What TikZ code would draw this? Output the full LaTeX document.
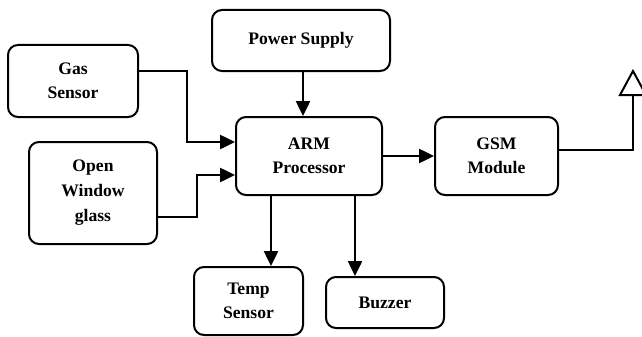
\documentclass[tikz,border=0pt]{standalone}
\usepackage{fontspec}
\setmainfont{Liberation Serif}
\usetikzlibrary{arrows.meta}

\tikzset{
  blk/.style={draw, line width=2pt, rounded corners=10pt, align=center,
              inner sep=0pt, font=\bfseries\fontsize{17.6}{24}\selectfont},
  conn/.style={line width=2.5pt, -{Triangle[length=15pt,width=14pt]}},
  wire/.style={line width=2pt},
}

\begin{document}
\begin{tikzpicture}[x=1pt,y=1pt]
  \useasboundingbox (0,0) rectangle (642,-337);
  \clip (0,0) rectangle (642,-337);

  % blocks
  \node[blk, minimum width=178pt, minimum height=61pt] (ps)   at (301,-40.5) {\raisebox{5pt}{Power Supply}};
  \node[blk, minimum width=130pt, minimum height=72pt] (gas)  at (73,-81)    {Gas\\Sensor};
  \node[blk, minimum width=146pt, minimum height=78pt] (arm)  at (309,-156)  {ARM\\Processor};
  \node[blk, minimum width=128pt, minimum height=102pt, font=\bfseries\fontsize{17.6}{25}\selectfont] (open) at (93,-193) {Open\\Window\\glass};
  \node[blk, minimum width=123pt, minimum height=78pt] (gsm)  at (496.5,-156) {GSM\\Module};
  \node[blk, minimum width=109pt, minimum height=68pt] (temp) at (248.5,-301) {Temp\\Sensor};
  \node[blk, minimum width=118pt, minimum height=51pt] (buzz) at (385,-302.5) {Buzzer};

  % inputs to the processor
  \draw[conn] (gas.east |- 0,-71) -| (187,-142) -- (arm.west |- 0,-142);
  \draw[conn] (open.east |- 0,-217) -| (197,-175) -- (arm.west |- 0,-175);
  \draw[conn] (ps.south -| 303,0) -- (arm.north -| 303,0);

  % outputs of the processor
  \draw[conn] (arm.east) -- (gsm.west);
  \draw[conn] (arm.south -| 271,0) -- (temp.north -| 271,0);
  \draw[conn] (arm.south -| 355,0) -- (buzz.north -| 355,0);

  % antenna
  \coordinate (ant) at (633,-95);
  \draw[wire] (gsm.east |- 0,-150) -| (ant);
  \draw[wire, line join=miter] (ant) -- (620,-95) -- (633,-71) -- (646,-95) -- cycle;
\end{tikzpicture}
\end{document}
